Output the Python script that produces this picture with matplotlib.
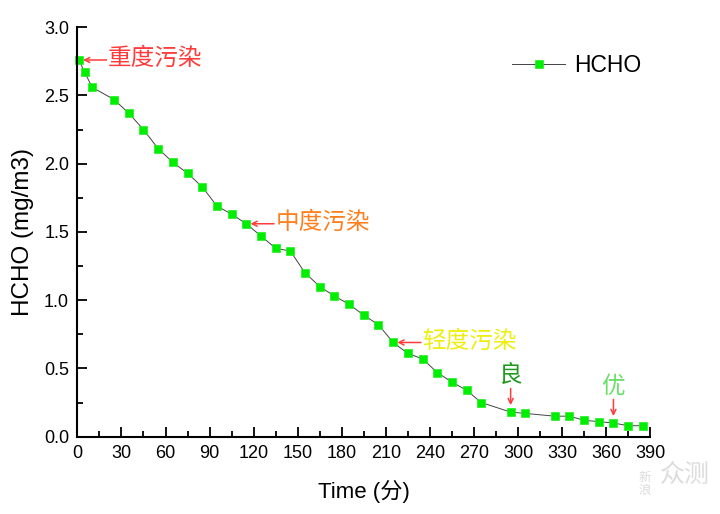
import matplotlib
matplotlib.use("Agg")
import matplotlib.pyplot as plt
from matplotlib.ticker import MultipleLocator

time_min = [1, 5, 10, 25, 35, 45, 55, 65, 75, 85, 95, 105, 115, 125, 135, 145,
            155, 165, 175, 185, 195, 205, 215, 225, 235, 245, 255, 265, 275,
            295, 305, 325, 335, 345, 355, 365, 375, 385]
hcho = [2.76, 2.67, 2.56, 2.47, 2.37, 2.25, 2.11, 2.01, 1.93, 1.83, 1.69, 1.63,
        1.56, 1.47, 1.38, 1.36, 1.20, 1.10, 1.03, 0.97, 0.89, 0.82, 0.69, 0.61,
        0.57, 0.47, 0.40, 0.34, 0.25, 0.18, 0.17, 0.15, 0.15, 0.12, 0.11, 0.10,
        0.08, 0.08]
x_ticks = list(range(0, 391, 30))
y_ticks = [0.0, 0.5, 1.0, 1.5, 2.0, 2.5, 3.0]

# annotations: (index of point, label, colour)
side_notes = [(0, "重度污染", "#ff3b3b"), (12, "中度污染", "#ff7f1e"), (22, "轻度污染", "#eeee10")]
top_notes = [(29, "良", "#1f9a1f"), (35, "优", "#66e066")]

plt.rcParams['font.family'] = ['Liberation Sans', 'Noto Sans CJK SC', 'DejaVu Sans']

fig = plt.figure(figsize=(7.2, 5.14), dpi=100)
ax = fig.add_axes([0.1075, 0.1505, 0.7955, 0.7965])

ax.plot(time_min, hcho, color='#444444', lw=0.7, marker='s', markersize=6.4,
        markerfacecolor='#00ee00', markeredgecolor='#22ee22', markeredgewidth=0.5,
        label='HCHO', clip_on=False, zorder=3)

ax.set_xlim(0, 390)
ax.set_ylim(0, 3.0)
ax.set_xticks(x_ticks)
ax.set_yticks(y_ticks)
ax.set_yticklabels([f"{v:.1f}" for v in y_ticks])
ax.xaxis.set_minor_locator(MultipleLocator(15))
ax.yaxis.set_minor_locator(MultipleLocator(0.25))
ax.tick_params(which='major', direction='in', length=7, width=1.3, labelsize=13, pad=6)
ax.tick_params(which='minor', direction='in', length=4, width=1.3)
for s in ['top', 'right']:
    ax.spines[s].set_visible(False)
for s in ['left', 'bottom']:
    ax.spines[s].set_linewidth(1.5)
    ax.spines[s].set_zorder(4)

ax.set_xlabel("Time (分)", fontsize=16, labelpad=13)
ax.set_ylabel("HCHO (mg/m3)", fontsize=17.5, labelpad=7)

cjk = ['Noto Sans CJK SC', 'DejaVu Sans']
for idx, label, col in side_notes:
    x, y = time_min[idx], hcho[idx]
    ax.annotate("", xy=(x, y), xytext=(20, 0), textcoords='offset points',
                xycoords='data', annotation_clip=False,
                arrowprops=dict(arrowstyle='->', color='#ff3b3b', lw=1.1,
                                shrinkA=0, shrinkB=3, mutation_scale=9))
    ax.annotate(label, xy=(x, y), xytext=(21, 1), textcoords='offset points',
                ha='left', va='center', fontsize=17, color=col,
                family=cjk, fontweight='light', annotation_clip=False)

for idx, label, col in top_notes:
    x, y = time_min[idx], hcho[idx]
    ax.annotate("", xy=(x, y), xytext=(0, 17), textcoords='offset points',
                annotation_clip=False,
                arrowprops=dict(arrowstyle='->', color='#ff3b3b', lw=1.1,
                                shrinkA=0, shrinkB=5, mutation_scale=9))
    ax.annotate(label, xy=(x, y), xytext=(0, 18), textcoords='offset points',
                ha='center', va='bottom', fontsize=17, color=col,
                family=cjk, fontweight='light', annotation_clip=False)

leg = ax.legend(loc='upper right', bbox_to_anchor=(1.021, 0.985), frameon=False,
                fontsize=16.5, handlelength=2.3, handletextpad=0.4)

# watermark
fig.text(0.895, 0.058, "新\n浪", fontsize=9, color='#dcdcdc', family=cjk,
         ha='center', va='center', linespacing=1.0)
fig.text(0.951, 0.075, "众测", fontsize=18, color='#dcdcdc', family=cjk,
         ha='center', va='center')

fig.savefig("out.png", dpi=100)
